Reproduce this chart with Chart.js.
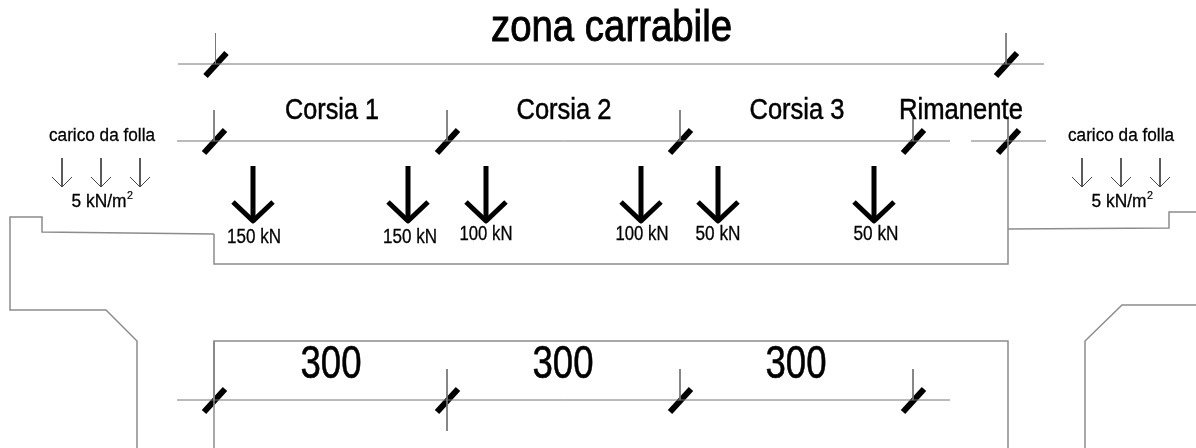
<!DOCTYPE html>
<html>
<head>
<meta charset="utf-8">
<title>zona carrabile</title>
<script src="https://cdn.jsdelivr.net/npm/chart.js@4/dist/chart.umd.js"></script>
<style>
    html, body { margin: 0; padding: 0; background: #fff; }
    canvas { display: block; }
</style>
</head>
<body>
<canvas id="sectionChart" width="1196" height="448"></canvas>
<script>
// deck and kerb outlines, in drawing units
const deckUpperX = [214, 214, 1008, 1008];
const deckUpperY = [234, 264, 264, 118];
const deckLowerX = [214, 214, 1008, 1008];
const deckLowerY = [448, 341, 341, 448];
const kerbLeftX = [214, 42, 42, 10, 10, 106, 137, 137];
const kerbLeftY = [234, 232, 217, 217, 310, 310, 341, 448];
const kerbRightX = [1008, 1169, 1169, 1196];
const kerbRightY = [229, 228, 212, 212];
const wingRightX = [1085, 1085, 1122, 1196];
const wingRightY = [448, 341, 305, 305];

// dimension lines
const dimLineY = [64, 141, 141, 400];
const dimLineStart = [178, 177, 971, 177];
const dimLineEnd = [1044, 950, 1046, 950];

// ticks on the dimension lines
const topTickX = [215.5, 1006];
const topTickY = [33, 33];
const laneTickX = [214, 447, 680, 913, 1008];
const laneTickY = [110, 110, 110, 118, 118];
const widthTickX = [214, 447, 680, 913];
const widthTickY = [341, 369, 369, 369];
const widthTickEnd = [400, 431, 400, 400];

// loads
const loadX = [253, 408, 486, 641, 718, 874];
const loadLabels = ['150 kN', '150 kN', '100 kN', '100 kN', '50 kN', '50 kN'];
const loadLabelX = [254, 410, 486, 642, 718, 876];
const loadLabelY = [237, 237, 234, 234, 234, 234];
const loadLabelW = [54, 54, 53, 53, 45, 45];
const crowdX = [62, 101, 140, 1082, 1121, 1160];

// text
const laneLabels = ['Corsia 1', 'Corsia 2', 'Corsia 3', 'Rimanente'];
const laneLabelX = [332, 564, 797, 961];
const laneLabelW = [94, 95, 95, 124];
const widthLabels = ['300', '300', '300'];
const widthLabelX = [331, 563, 796];
const crowdLabelX = [102, 1121];
const crowdValueX = [99, 1119];
const crowdSupX = [130, 1150];

const THIN = '#777';
const OUTLINE = '#8c8c8c';
const INK = '#000';

function line(xs, ys, color, width, extra) {
    return Object.assign({
        data: xs.map((x, i) => ({ x: x, y: ys[i] })),
        showLine: true,
        pointRadius: 0,
        borderColor: color,
        borderWidth: width,
        tension: 0,
        fill: false
    }, extra || {});
}

function slash(x, y) {
    return line([x - 10, x + 11], [y + 12, y - 11], INK, 6);
}

function arrow(x, top, tip, spread, rise, color, width) {
    return [
        line([x, x], [top, tip], color, width),
        line([x - spread, x, x + spread], [tip - rise, tip, tip - rise], color, width, { borderJoinStyle: 'round' })
    ];
}

const datasets = [];
datasets.push(line(deckUpperX, deckUpperY, OUTLINE, 1.5));
datasets.push(line(deckLowerX, deckLowerY, OUTLINE, 1.5));
datasets.push(line(kerbLeftX, kerbLeftY, OUTLINE, 1.5));
datasets.push(line(kerbRightX, kerbRightY, OUTLINE, 1.5));
datasets.push(line(wingRightX, wingRightY, OUTLINE, 1.5));

dimLineY.forEach((y, i) => {
    datasets.push(line([dimLineStart[i], dimLineEnd[i]], [y, y], THIN, 1));
});
topTickX.forEach((x, i) => {
    datasets.push(line([x, x], [topTickY[i], dimLineY[0]], THIN, 1));
    datasets.push(slash(x, dimLineY[0]));
});
laneTickX.forEach((x, i) => {
    datasets.push(line([x, x], [laneTickY[i], dimLineY[1]], THIN, 1));
    datasets.push(slash(x, dimLineY[1]));
});
widthTickX.forEach((x, i) => {
    datasets.push(line([x, x], [widthTickY[i], widthTickEnd[i]], THIN, 1));
    datasets.push(slash(x, dimLineY[3]));
});
loadX.forEach((x) => {
    datasets.push(...arrow(x, 166, 221, 20, 19, INK, 5));
});
crowdX.forEach((x) => {
    datasets.push(...arrow(x, 158, 187, 10, 10, '#444', 1));
});

// all the lettering goes through the scales too
const textPlugin = {
    id: 'drawingText',
    afterDatasetsDraw(chart) {
        const ctx = chart.ctx;
        const sx = chart.scales.x;
        const sy = chart.scales.y;

        function put(text, x, y, size, width, weight) {
            const px = sx.getPixelForValue(x);
            const py = sy.getPixelForValue(y);
            ctx.font = size + 'px "Liberation Sans"';
            ctx.lineWidth = weight;
            ctx.fillText(text, px, py, width);
            ctx.strokeText(text, px, py, width);
        }

        ctx.save();
        ctx.fillStyle = '#000';
        ctx.strokeStyle = '#000';
        ctx.textAlign = 'center';
        ctx.textBaseline = 'middle';

        put('zona carrabile', 611.5, 29, 45, 241, 0.9);
        laneLabels.forEach((t, i) => put(t, laneLabelX[i], 111, 29, laneLabelW[i], 0.5));
        loadLabels.forEach((t, i) => put(t, loadLabelX[i], loadLabelY[i], 20, loadLabelW[i], 0.3));
        widthLabels.forEach((t, i) => put(t, widthLabelX[i], 365, 47, 61, 0.6));
        crowdLabelX.forEach((x) => put('carico da folla', x, 136, 18, 106, 0.3));
        crowdValueX.forEach((x) => put('5 kN/m', x, 202, 18, 55, 0.3));
        crowdSupX.forEach((x) => put('2', x, 196, 11, 6, 0.2));
        ctx.restore();
    }
};

new Chart(document.getElementById('sectionChart').getContext('2d'), {
    type: 'scatter',
    data: { datasets: datasets },
    plugins: [textPlugin],
    options: {
        responsive: false,
        animation: false,
        layout: { padding: 0 },
        plugins: { legend: { display: false }, tooltip: { enabled: false } },
        scales: {
            x: { type: 'linear', min: 0, max: 1196, display: false },
            y: { type: 'linear', min: 0, max: 448, reverse: true, display: false }
        }
    }
});
</script>
</body>
</html>
